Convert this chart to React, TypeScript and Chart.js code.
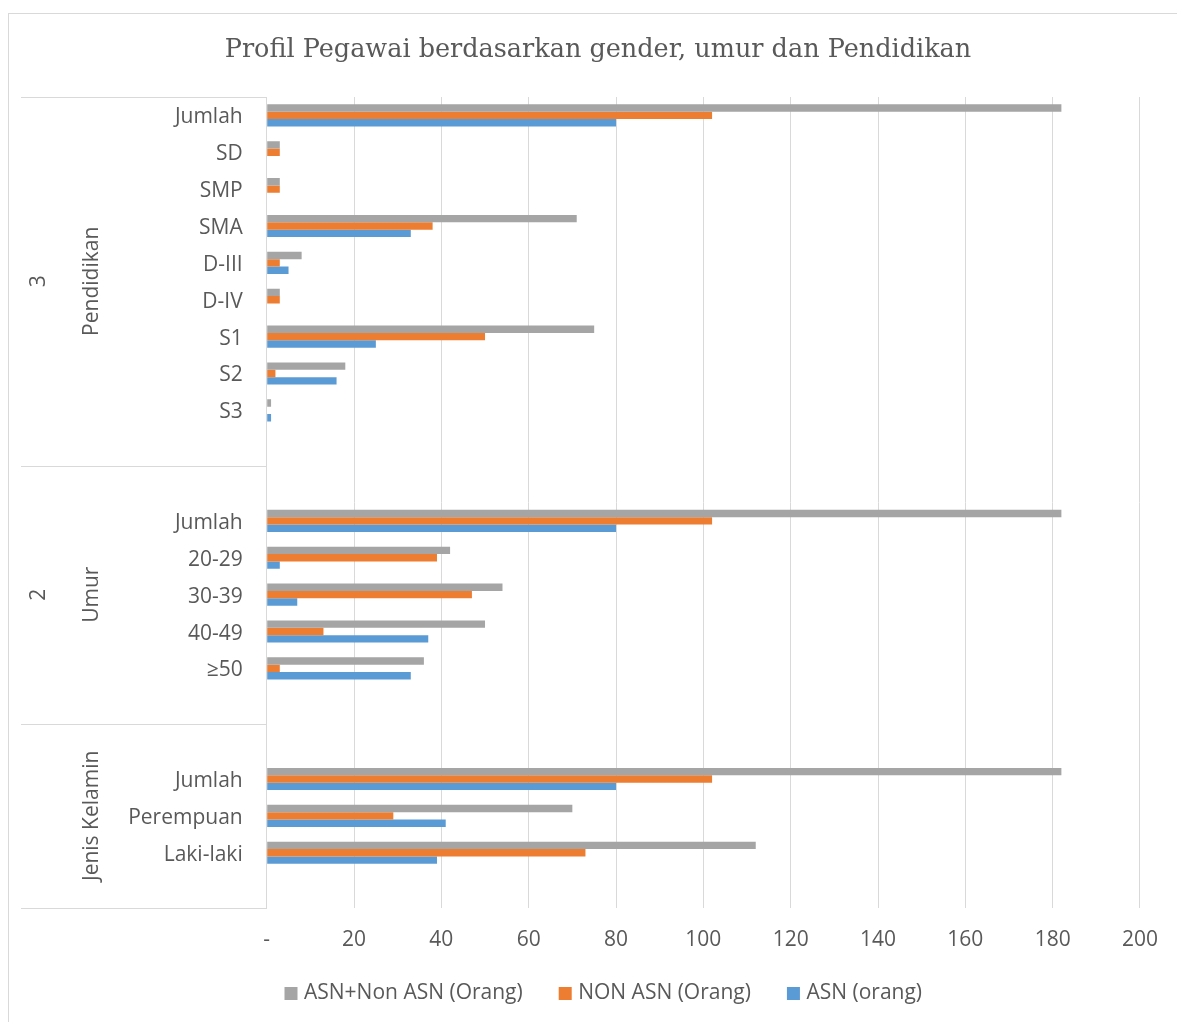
import React, { useEffect, useRef } from 'react';
import { Chart, registerables } from 'chart.js';

Chart.register(...registerables);

// ---- data ----
const TITLE = 'Profil Pegawai berdasarkan gender, umur dan Pendidikan';
const SERIES_NAMES = ['ASN+Non ASN (Orang)', 'NON ASN (Orang)', 'ASN (orang)'];
const SERIES_COLORS = ['#A5A5A5', '#ED7D31', '#5B9BD5'];

const GROUP_NAMES = ['Pendidikan', 'Umur', 'Jenis Kelamin'];
const GROUP_NUMBERS = ['3', '2', ''];

const pendidikanCats = ['Jumlah', 'SD', 'SMP', 'SMA', 'D-III', 'D-IV', 'S1', 'S2', 'S3', ''];
const pendidikanTotal = [182, 3, 3, 71, 8, 3, 75, 18, 1, null];
const pendidikanNonAsn = [102, 3, 3, 38, 3, 3, 50, 2, 0, null];
const pendidikanAsn = [80, 0, 0, 33, 5, 0, 25, 16, 1, null];

const umurCats = ['', 'Jumlah', '20-29', '30-39', '40-49', '≥50', ''];
const umurTotal = [null, 182, 42, 54, 50, 36, null];
const umurNonAsn = [null, 102, 39, 47, 13, 3, null];
const umurAsn = [null, 80, 3, 7, 37, 33, null];

const genderCats = ['', 'Jumlah', 'Perempuan', 'Laki-laki', ''];
const genderTotal = [null, 182, 70, 112, null];
const genderNonAsn = [null, 102, 29, 73, null];
const genderAsn = [null, 80, 41, 39, null];

const X_MIN = 0;
const X_MAX = 200;
const X_STEP = 20;
const X_TICK_LABELS = ['-', '20', '40', '60', '80', '100', '120', '140', '160', '180', '200'];

// ---- derived ----
const GROUP_CATS = [pendidikanCats, umurCats, genderCats];
const ALL_CATS = [...pendidikanCats, ...umurCats, ...genderCats];
const TOTAL = [...pendidikanTotal, ...umurTotal, ...genderTotal];
const NON_ASN = [...pendidikanNonAsn, ...umurNonAsn, ...genderNonAsn];
const ASN = [...pendidikanAsn, ...umurAsn, ...genderAsn];

const TEXT = '#595959';
const LINE = '#d9d9d9';
const SANS = '"Open Sans", sans-serif';
const FS = 21;

const decorPlugin = {
  id: 'decor',
  afterDraw(chart: any) {
    const ctx = chart.ctx as CanvasRenderingContext2D;
    const y = chart.scales.y;
    const area = chart.chartArea;
    ctx.save();

    // title
    ctx.fillStyle = TEXT;
    ctx.font = '25.5px "DejaVu Serif", serif';
    ctx.textAlign = 'center';
    ctx.textBaseline = 'alphabetic';
    ctx.fillText(TITLE, 598, 57);

    // multi-level category axis
    ctx.strokeStyle = LINE;
    ctx.lineWidth = 1;
    let start = 0;
    const boundaries: number[] = [y.getPixelForValue(-0.5)];
    GROUP_CATS.forEach((cats, gi) => {
      const end = start + cats.length;
      const top = y.getPixelForValue(start - 0.5);
      const bot = y.getPixelForValue(end - 0.5);
      boundaries.push(bot);
      const mid = (top + bot) / 2;
      ctx.fillStyle = TEXT;
      ctx.font = FS + 'px ' + SANS;
      ctx.textAlign = 'center';
      ctx.textBaseline = 'middle';
      ctx.save();
      ctx.translate(92, mid);
      ctx.rotate(-Math.PI / 2);
      ctx.fillText(GROUP_NAMES[gi], 0, 0);
      ctx.restore();
      if (GROUP_NUMBERS[gi]) {
        ctx.save();
        ctx.translate(39, mid);
        ctx.rotate(-Math.PI / 2);
        ctx.fillText(GROUP_NUMBERS[gi], 0, 0);
        ctx.restore();
      }
      start = end;
    });
    boundaries.forEach((b) => {
      const yy = Math.round(b) + 0.5;
      ctx.beginPath();
      ctx.moveTo(21, yy);
      ctx.lineTo(area.left, yy);
      ctx.stroke();
    });

    // legend
    ctx.font = FS + 'px ' + SANS;
    ctx.textAlign = 'left';
    ctx.textBaseline = 'middle';
    let x = 284.5;
    const ly = 993.5;
    SERIES_NAMES.forEach((name, i) => {
      ctx.fillStyle = SERIES_COLORS[i];
      ctx.fillRect(x, ly - 6.5, 13, 13);
      ctx.fillStyle = TEXT;
      ctx.fillText(name, x + 19.5, ly);
      x += 19.5 + ctx.measureText(name).width + 36;
    });

    ctx.restore();
  },
};

export default function App() {
  const canvasRef = useRef<HTMLCanvasElement | null>(null);

  useEffect(() => {
    const canvas = canvasRef.current;
    if (!canvas) return;
    const seriesData = [TOTAL, NON_ASN, ASN];
    const chart = new Chart(canvas, {
      type: 'bar',
      data: {
        labels: ALL_CATS,
        datasets: SERIES_NAMES.map((name, i) => ({
          label: name,
          data: seriesData[i] as any,
          backgroundColor: SERIES_COLORS[i],
          borderWidth: 0,
          categoryPercentage: 0.6,
          barPercentage: 1,
        })),
      },
      options: {
        indexAxis: 'y',
        responsive: false,
        animation: false,
        devicePixelRatio: 1,
        layout: { padding: { top: 97, right: 37, bottom: 64, left: 0 } },
        plugins: {
          legend: { display: false },
          title: { display: false },
          tooltip: { enabled: false },
        },
        scales: {
          x: {
            type: 'linear',
            min: X_MIN,
            max: X_MAX,
            ticks: {
              stepSize: X_STEP,
              color: TEXT,
              font: { family: SANS, size: FS },
              padding: 19,
              callback: (_v: any, idx: number) => X_TICK_LABELS[idx],
            },
            grid: { color: LINE, lineWidth: 1, drawTicks: false },
            border: { display: false },
            afterFit: (scale: any) => {
              scale.height = 50;
            },
          },
          y: {
            type: 'category',
            offset: true,
            ticks: {
              autoSkip: false,
              color: TEXT,
              font: { family: SANS, size: FS },
              padding: 24,
              labelOffset: 2,
            },
            grid: { display: false, drawTicks: false },
            border: { display: true, color: LINE, width: 1 },
            afterFit: (scale: any) => {
              scale.width = 266.7;
            },
          },
        },
      },
      plugins: [decorPlugin],
    });
    return () => chart.destroy();
  }, []);

  return (
    <div
      style={{
        position: 'fixed',
        left: 0,
        top: 0,
        width: 1177,
        height: 1022,
        overflow: 'hidden',
        background: '#fff',
      }}
    >
      <div
        style={{
          position: 'absolute',
          left: 8,
          top: 13,
          width: 1300,
          height: 1200,
          border: '1px solid #d9d9d9',
          boxSizing: 'border-box',
        }}
      />
      <canvas
        ref={canvasRef}
        width={1177}
        height={1022}
        style={{ position: 'absolute', left: 0, top: 0, width: 1177, height: 1022 }}
      />
    </div>
  );
}
